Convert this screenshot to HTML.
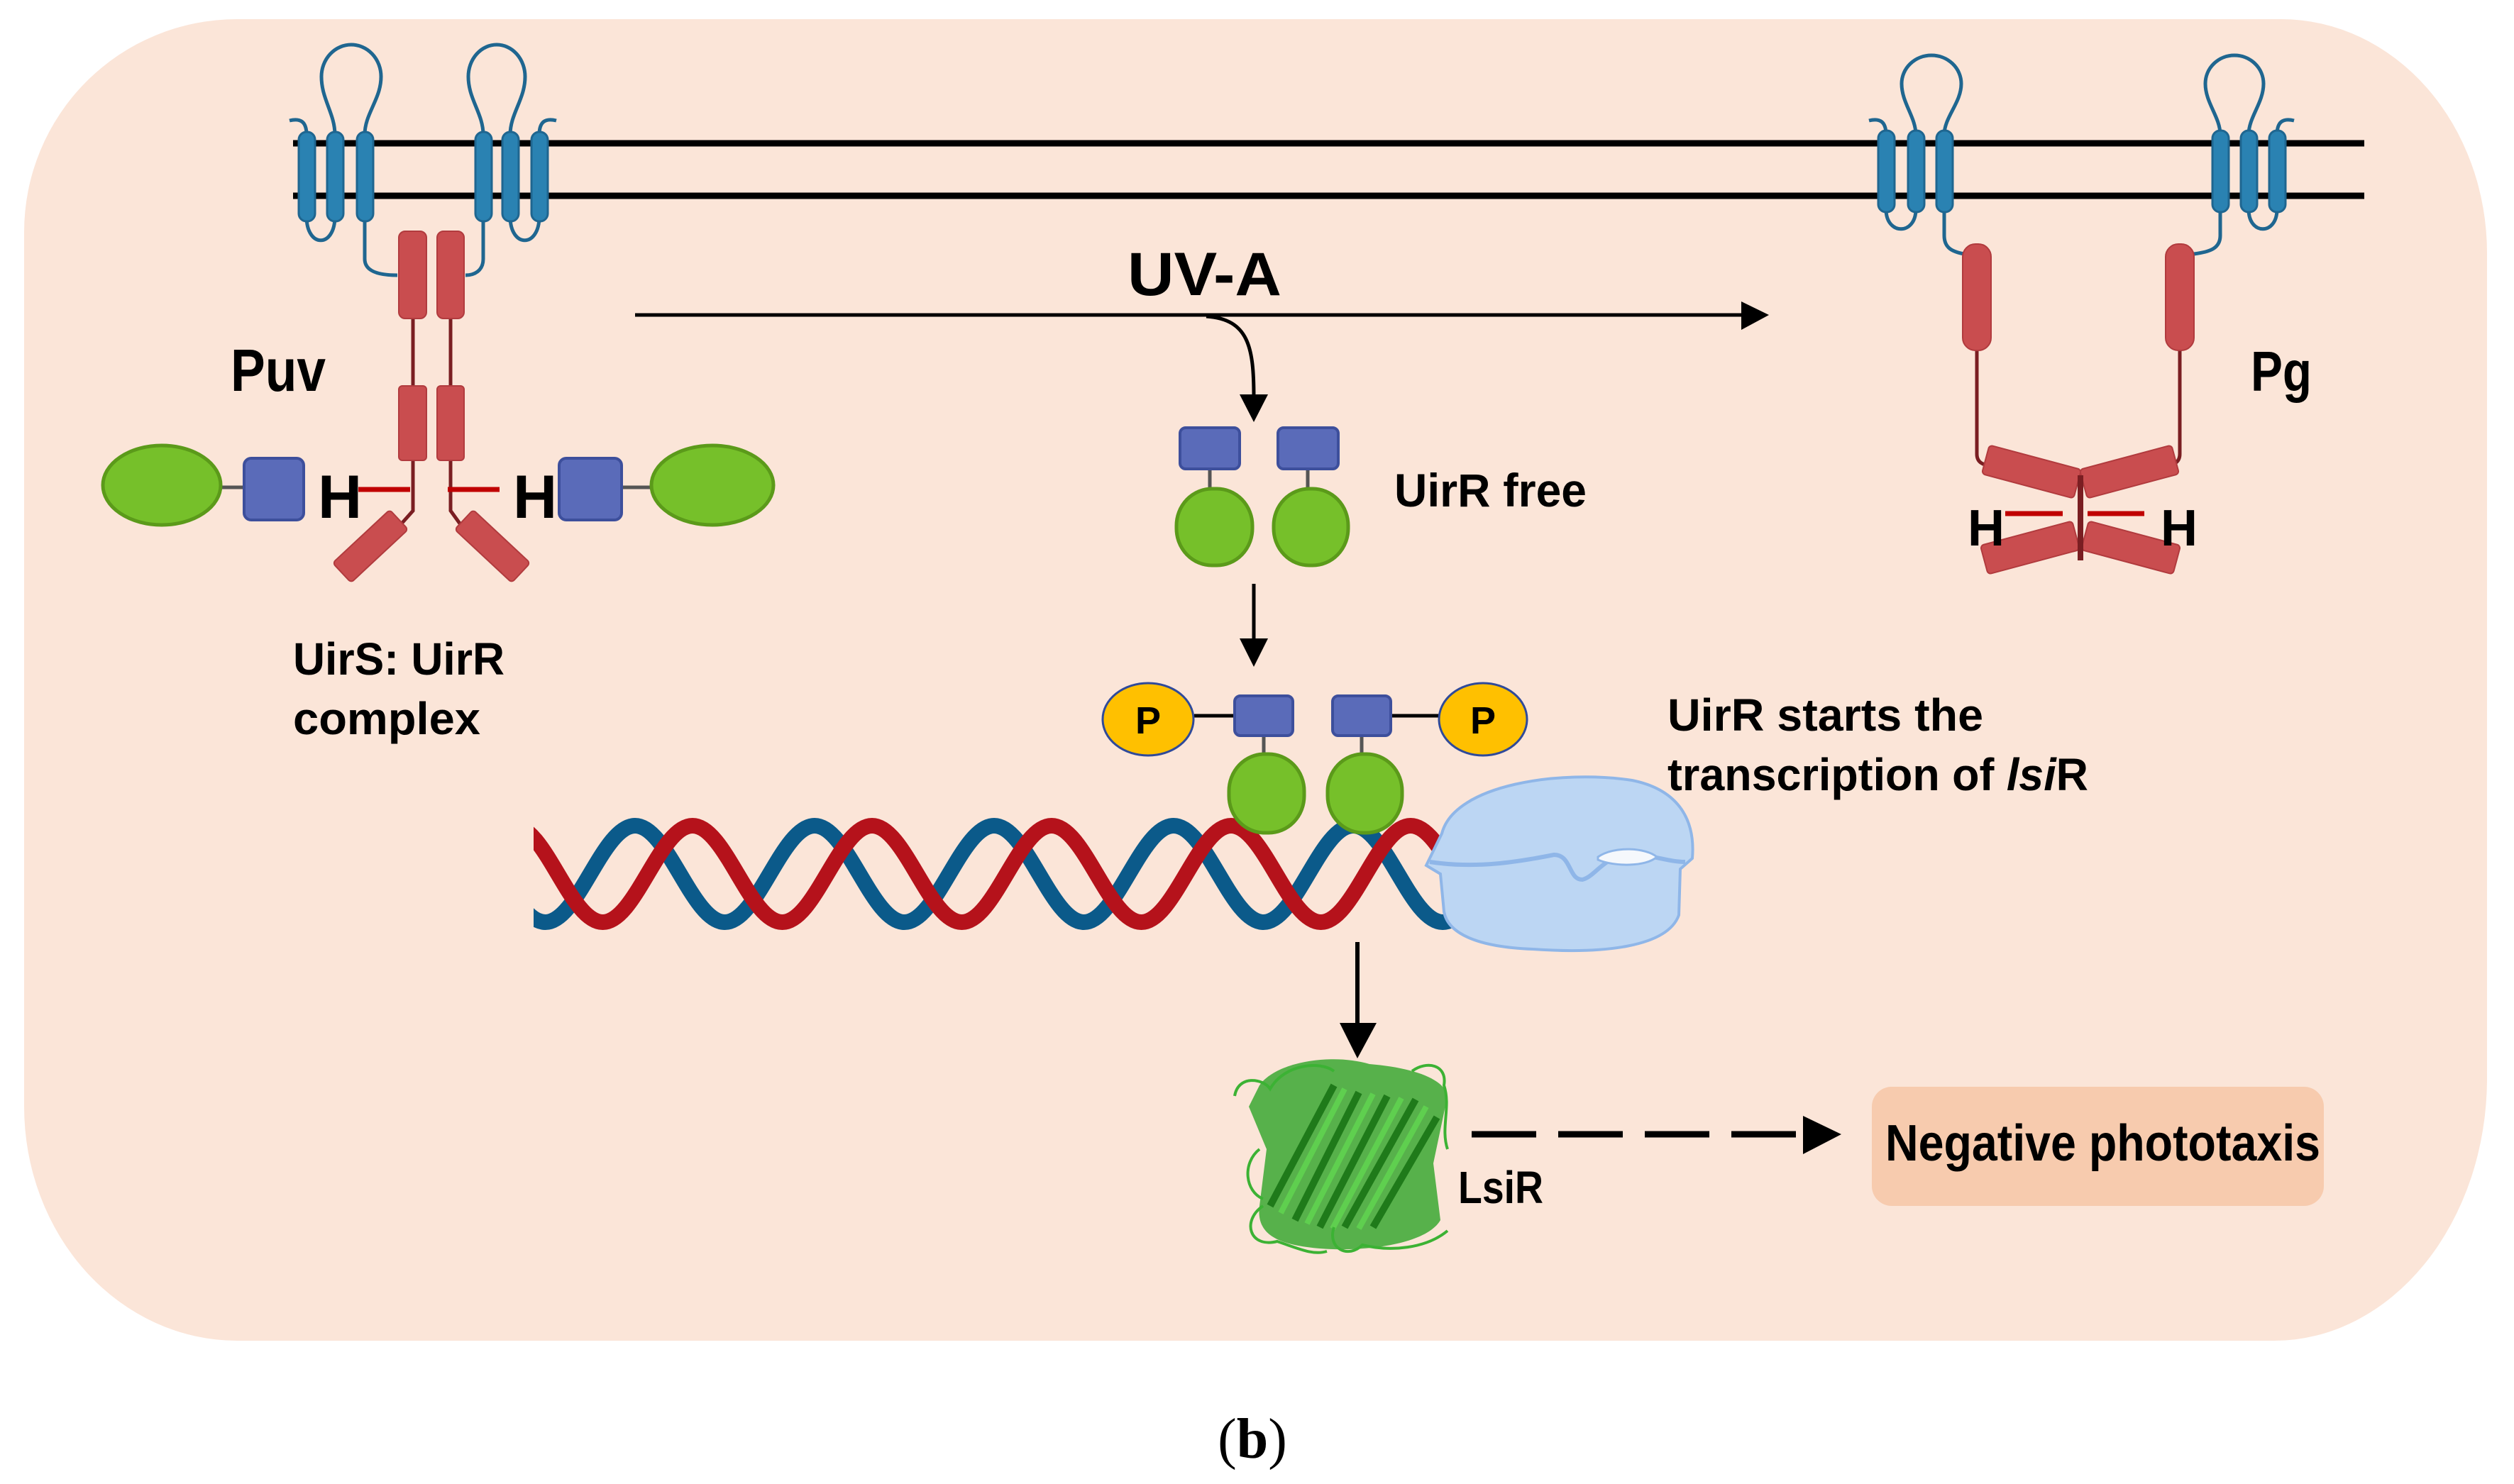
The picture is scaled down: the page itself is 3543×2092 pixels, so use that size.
<!DOCTYPE html>
<html><head><meta charset="utf-8"><style>
html,body{margin:0;padding:0;background:#fff;}
svg{display:block;}
text{font-family:"Liberation Sans",sans-serif;font-weight:bold;fill:#000;}
</style></head><body>
<svg width="3543" height="2092" viewBox="0 0 3543 2092" xmlns="http://www.w3.org/2000/svg">
<defs>
<clipPath id="dnaclip"><rect x="752" y="1100" width="1300" height="260"/></clipPath>
</defs>
<!-- panel -->
<path d="M334,27 L3215,27 A290,330 0 0 1 3505,357 L3505,1520 A300,370 0 0 1 3205,1890 L334,1890 A300,330 0 0 1 34,1560 L34,327 A300,300 0 0 1 334,27 Z" fill="#fbe5d8"/>

<!-- membrane -->
<line x1="413" y1="202" x2="3332" y2="202" stroke="#000" stroke-width="9"/>
<line x1="413" y1="276" x2="3332" y2="276" stroke="#000" stroke-width="9"/>

<!-- TM proteins -->
<g fill="none" stroke="#1f6690" stroke-width="5">
 <!-- left group 1 -->
 <path d="M432,190 C432,172 424,166 408,170"/>
 <path d="M432,305 C432,350 472,350 472,305"/>
 <path d="M472,190 C472,160 453,140 453,108 A42,45 0 1 1 537,108 C537,140 514,160 514,190"/>
 <path d="M514,305 L514,365 C514,382 532,388 560,388"/>
 <!-- left group 2 -->
 <path d="M760,190 C760,172 768,166 784,170"/>
 <path d="M719,305 C719,350 760,350 760,305"/>
 <path d="M681,190 C681,160 660,140 660,108 A40,45 0 1 1 740,108 C740,140 719,160 719,190"/>
 <path d="M681,305 L681,365 C681,382 668,388 656,388"/>
 <!-- right group A -->
 <path d="M2658,190 C2658,172 2650,166 2634,170"/>
 <path d="M2658,295 C2658,332 2700,332 2700,295"/>
 <path d="M2700,190 C2700,165 2680,145 2680,118 A42,40 0 1 1 2764,118 C2764,145 2740,165 2740,190"/>
 <path d="M2740,295 L2740,332 C2740,350 2752,355 2768,358"/>
 <!-- right group B -->
 <path d="M3209,190 C3209,172 3217,166 3233,170"/>
 <path d="M3169,295 C3169,332 3209,332 3209,295"/>
 <path d="M3129,190 C3129,165 3108,145 3108,118 A41,40 0 1 1 3190,118 C3190,145 3169,165 3169,190"/>
 <path d="M3129,295 L3129,332 C3129,350 3115,355 3092,358"/>
</g>
<g fill="#2a82b2" stroke="#1f6690" stroke-width="3">
 <rect x="421" y="186" width="23" height="126" rx="11"/>
 <rect x="461" y="186" width="23" height="126" rx="11"/>
 <rect x="503" y="186" width="23" height="126" rx="11"/>
 <rect x="670" y="186" width="23" height="126" rx="11"/>
 <rect x="708" y="186" width="23" height="126" rx="11"/>
 <rect x="749" y="186" width="23" height="126" rx="11"/>
 <rect x="2647" y="184" width="23" height="115" rx="11"/>
 <rect x="2689" y="184" width="23" height="115" rx="11"/>
 <rect x="2729" y="184" width="23" height="115" rx="11"/>
 <rect x="3118" y="184" width="23" height="115" rx="11"/>
 <rect x="3158" y="184" width="23" height="115" rx="11"/>
 <rect x="3198" y="184" width="23" height="115" rx="11"/>
</g>

<!-- Puv (left) red -->
<g fill="none" stroke="#7a1e22" stroke-width="5">
 <path d="M582,449 L582,544 M635,449 L635,544"/>
 <path d="M582,649 L582,720 L566,738"/>
 <path d="M635,649 L635,720 L648,738"/>
</g>
<g fill="#c94d4f" stroke="#b13b3e" stroke-width="2">
 <rect x="562" y="326" width="39" height="123" rx="9"/>
 <rect x="616" y="326" width="38" height="123" rx="9"/>
 <rect x="562" y="544" width="39" height="105" rx="5"/>
 <rect x="616" y="544" width="38" height="105" rx="5"/>
 <rect x="-55" y="-19" width="110" height="38" rx="5" transform="translate(522,770) rotate(-43)"/>
 <rect x="-55" y="-19" width="110" height="38" rx="5" transform="translate(694,770) rotate(43)"/>
</g>
<g stroke="#c00000" stroke-width="7">
 <line x1="505" y1="690" x2="578" y2="690"/>
 <line x1="631" y1="690" x2="704" y2="690"/>
</g>
<g stroke="#555" stroke-width="5">
 <line x1="308" y1="687" x2="346" y2="687"/>
 <line x1="874" y1="687" x2="920" y2="687"/>
</g>
<g fill="#5a6bb9" stroke="#3d4f9c" stroke-width="4">
 <rect x="344" y="646" width="84" height="87" rx="10"/>
 <rect x="788" y="646" width="88" height="87" rx="10"/>
</g>
<g fill="#76c02a" stroke="#5b9a1a" stroke-width="5">
 <ellipse cx="228" cy="684" rx="83" ry="56"/>
 <ellipse cx="1004" cy="684" rx="86" ry="56"/>
</g>
<text x="448" y="730" font-size="86">H</text>
<text x="723" y="730" font-size="86">H</text>
<text x="325" y="551" font-size="84" textLength="134" lengthAdjust="spacingAndGlyphs">Puv</text>
<text x="413" y="951" font-size="64" textLength="298" lengthAdjust="spacingAndGlyphs">UirS: UirR</text>
<text x="413" y="1035" font-size="64" textLength="264" lengthAdjust="spacingAndGlyphs">complex</text>

<!-- Pg (right) red -->
<g fill="none" stroke="#7a1e22" stroke-width="5">
 <path d="M2786,494 L2786,640 C2786,652 2795,656 2806,656"/>
 <path d="M3072,494 L3072,640 C3072,652 3063,656 3052,656"/>
</g>
<g fill="#c94d4f" stroke="#b13b3e" stroke-width="2">
 <rect x="2766" y="344" width="40" height="150" rx="18"/>
 <rect x="3052" y="344" width="40" height="150" rx="18"/>
 <rect x="-67" y="-21" width="134" height="42" rx="5" transform="translate(2863,665) rotate(15)"/>
 <rect x="-67" y="-21" width="134" height="42" rx="5" transform="translate(3001,665) rotate(-15)"/>
 <rect x="-67" y="-21" width="134" height="42" rx="5" transform="translate(2861,772) rotate(-15)"/>
 <rect x="-67" y="-21" width="134" height="42" rx="5" transform="translate(3003,772) rotate(15)"/>
</g>
<line x1="2932" y1="670" x2="2932" y2="790" stroke="#7a1e22" stroke-width="8"/>
<g stroke="#c00000" stroke-width="7">
 <line x1="2826" y1="724" x2="2907" y2="724"/>
 <line x1="2942" y1="724" x2="3022" y2="724"/>
</g>
<text x="2773" y="769" font-size="72">H</text>
<text x="3045" y="769" font-size="72">H</text>
<text x="3172" y="551" font-size="80" textLength="86" lengthAdjust="spacingAndGlyphs">Pg</text>

<!-- UV-A arrows -->
<text x="1589" y="416" font-size="86" textLength="217" lengthAdjust="spacingAndGlyphs">UV-A</text>
<line x1="895" y1="444" x2="2460" y2="444" stroke="#000" stroke-width="5"/>
<polygon points="2454,425 2493,444 2454,465" fill="#000"/>
<path d="M1700,446 C1760,450 1767,490 1767,560" fill="none" stroke="#000" stroke-width="5"/>
<polygon points="1747,556 1787,556 1767,595" fill="#000"/>

<!-- UirR free -->
<g stroke="#555" stroke-width="5">
 <line x1="1705" y1="661" x2="1705" y2="690"/>
 <line x1="1843" y1="661" x2="1843" y2="690"/>
</g>
<g fill="#5a6bb9" stroke="#3d4f9c" stroke-width="4">
 <rect x="1663" y="603" width="84" height="58" rx="8"/>
 <rect x="1801" y="603" width="85" height="58" rx="8"/>
</g>
<g fill="#76c02a" stroke="#5b9a1a" stroke-width="5">
 <rect x="1658" y="689" width="107" height="108" rx="50" ry="52"/>
 <rect x="1795" y="689" width="105" height="108" rx="50" ry="52"/>
</g>
<text x="1965" y="714" font-size="66" textLength="271" lengthAdjust="spacingAndGlyphs">UirR free</text>
<line x1="1767" y1="823" x2="1767" y2="905" stroke="#000" stroke-width="5"/>
<polygon points="1747,900 1787,900 1767,940" fill="#000"/>

<!-- DNA -->
<g clip-path="url(#dnaclip)" fill="none" stroke-width="22">
 <path stroke="#0b5a8a" d="M642,1164 C688,1164 722.5,1300 768.5,1300 S849,1164 895,1164 S975.5,1300 1021.5,1300 S1102,1164 1148,1164 S1228.5,1300 1274.5,1300 S1355,1164 1401,1164 S1481.5,1300 1527.5,1300 S1608,1164 1654,1164 S1734.5,1300 1780.5,1300 S1861,1164 1907,1164 S1987.5,1300 2033.5,1300 S2114,1164 2160,1164"/>
 <path stroke="#b5121b" d="M470,1164 C516,1164 550.5,1300 596.5,1300 S677,1164 723,1164 S803.5,1300 849.5,1300 S930,1164 976,1164 S1056.5,1300 1102.5,1300 S1183,1164 1229,1164 S1309.5,1300 1355.5,1300 S1436,1164 1482,1164 S1562.5,1300 1608.5,1300 S1689,1164 1735,1164 S1815.5,1300 1861.5,1300 S1942,1164 1988,1164 S2068.5,1300 2114.5,1300"/>
</g>

<!-- phosphorylated UirR on DNA -->
<g stroke="#000" stroke-width="5">
 <line x1="1683" y1="1009" x2="1740" y2="1009"/>
 <line x1="1960" y1="1009" x2="2029" y2="1009"/>
</g>
<g stroke="#555" stroke-width="5">
 <line x1="1781" y1="1037" x2="1781" y2="1065"/>
 <line x1="1919" y1="1037" x2="1919" y2="1065"/>
</g>
<g fill="#76c02a" stroke="#5b9a1a" stroke-width="5">
 <rect x="1732" y="1063" width="106" height="111" rx="50" ry="52"/>
 <rect x="1871" y="1063" width="105" height="111" rx="50" ry="52"/>
</g>
<g fill="#5a6bb9" stroke="#3d4f9c" stroke-width="4">
 <rect x="1740" y="981" width="82" height="56" rx="8"/>
 <rect x="1878" y="981" width="82" height="56" rx="8"/>
</g>
<g fill="#ffc000" stroke="#2f4a9a" stroke-width="3">
 <ellipse cx="1618" cy="1014" rx="64" ry="51"/>
 <ellipse cx="2090" cy="1014" rx="62" ry="51"/>
</g>
<text x="1618" y="1034" font-size="54" text-anchor="middle">P</text>
<text x="2090" y="1034" font-size="54" text-anchor="middle">P</text>

<!-- RNA polymerase -->
<path d="M2032,1175 C2050,1105 2200,1085 2300,1100 C2360,1112 2390,1150 2385,1210 L2368,1225 L2366,1290 C2350,1335 2260,1345 2160,1338 C2080,1335 2040,1315 2035,1285 L2030,1232 L2010,1220 Z" fill="#bcd6f3" stroke="#8fb6e8" stroke-width="4"/>
<path d="M2015,1215 C2080,1225 2140,1215 2190,1205 C2215,1205 2210,1240 2230,1240 C2250,1235 2260,1205 2300,1205 C2330,1205 2350,1215 2375,1215" fill="none" stroke="#8fb6e8" stroke-width="6"/>
<path d="M2252,1208 C2275,1192 2320,1195 2335,1208 C2320,1222 2275,1222 2252,1212 Z" fill="#f5f8fc" stroke="#8fb6e8" stroke-width="3"/>

<text x="2350" y="1030" font-size="64" textLength="445" lengthAdjust="spacingAndGlyphs">UirR starts the</text>
<text x="2350" y="1114" font-size="64" textLength="593" lengthAdjust="spacingAndGlyphs">transcription of <tspan font-style="italic">lsi</tspan>R</text>

<!-- arrow to LsiR -->
<line x1="1913" y1="1328" x2="1913" y2="1445" stroke="#000" stroke-width="6"/>
<polygon points="1888,1442 1940,1442 1913,1492" fill="#000"/>

<!-- GFP-like LsiR -->
<g>
 <path d="M1775,1530 C1800,1495 1880,1485 1930,1500 C1990,1505 2035,1520 2040,1545 L2020,1640 L2030,1720 C2010,1755 1920,1765 1860,1760 C1800,1755 1770,1740 1775,1700 L1785,1620 L1760,1560 Z" fill="#3aa832" opacity="0.85"/>
 <g stroke="#1f7a1a" stroke-width="10" fill="none">
  <line x1="1790" y1="1700" x2="1880" y2="1530"/>
  <line x1="1825" y1="1720" x2="1915" y2="1540"/>
  <line x1="1860" y1="1730" x2="1955" y2="1545"/>
  <line x1="1895" y1="1730" x2="1995" y2="1550"/>
  <line x1="1935" y1="1730" x2="2025" y2="1575"/>
 </g>
 <g stroke="#5fcf4f" stroke-width="8" fill="none">
  <line x1="1805" y1="1710" x2="1895" y2="1535"/>
  <line x1="1842" y1="1725" x2="1935" y2="1542"/>
  <line x1="1878" y1="1732" x2="1975" y2="1548"/>
  <line x1="1915" y1="1732" x2="2010" y2="1560"/>
 </g>
 <g stroke="#3cb234" stroke-width="4" fill="none">
  <path d="M1740,1545 C1745,1515 1780,1520 1790,1535 C1810,1500 1860,1495 1880,1510"/>
  <path d="M1990,1510 C2010,1495 2040,1500 2035,1530 C2045,1560 2030,1590 2040,1620"/>
  <path d="M1780,1700 C1750,1720 1760,1760 1800,1750 C1830,1760 1850,1770 1870,1764"/>
  <path d="M1880,1730 C1870,1760 1900,1775 1920,1755 C1960,1765 2010,1760 2040,1735"/>
  <path d="M1775,1620 C1750,1640 1755,1680 1780,1690"/>
 </g>
</g>
<text x="2055" y="1696" font-size="64" textLength="120" lengthAdjust="spacingAndGlyphs">LsiR</text>

<!-- dashed arrow -->
<line x1="2074" y1="1599" x2="2541" y2="1599" stroke="#000" stroke-width="9" stroke-dasharray="91 31"/>
<polygon points="2541,1573 2595,1599 2541,1627" fill="#000"/>
<rect x="2638" y="1532" width="637" height="168" rx="28" fill="#f7cbae"/>
<text x="2657" y="1636" font-size="72" textLength="613" lengthAdjust="spacingAndGlyphs">Negative phototaxis</text>

<!-- caption -->
<text x="1765" y="2055" font-size="80" text-anchor="middle" style="font-family:'Liberation Serif',serif;font-weight:normal;">(<tspan font-weight="bold">b</tspan>)</text>
</svg>
</body></html>
